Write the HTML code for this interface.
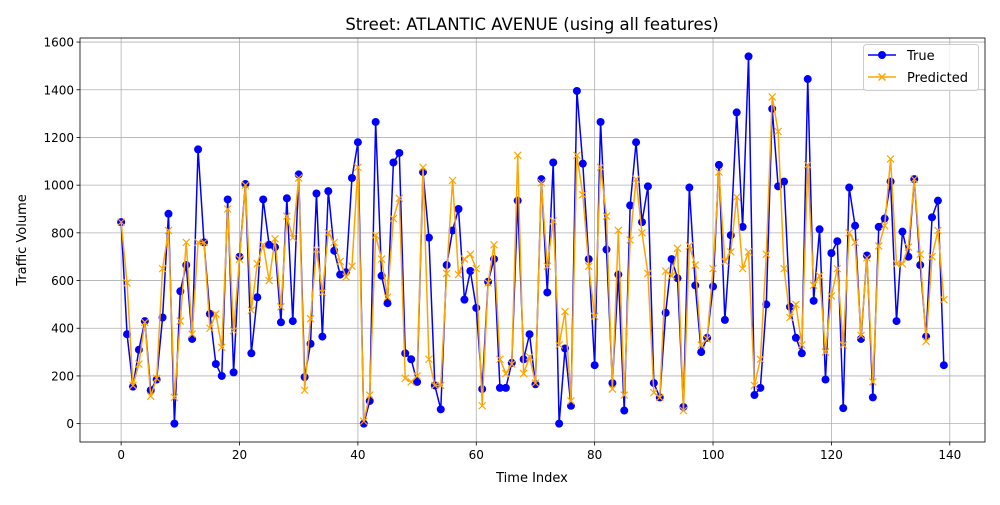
<!DOCTYPE html>
<html><head><meta charset="utf-8">
<style>
body{margin:0;background:#fff;font-family:"Liberation Sans","DejaVu Sans",sans-serif;}
svg text{font-family:"DejaVu Sans","Liberation Sans",sans-serif;}
</style></head>
<body>
<svg id="chart" width="1000" height="500" viewBox="0 0 1000 500" xmlns="http://www.w3.org/2000/svg">
<rect width="1000" height="500" fill="#fff"/>
<text x="532" y="30" font-size="16.5" text-anchor="middle">Street: ATLANTIC AVENUE (using all features)</text>
<g id="grid"></g>
<g id="axes"></g>
<g id="series"></g>
<text x="532" y="482" font-size="13" text-anchor="middle">Time Index</text>
<text x="26" y="240" font-size="13" text-anchor="middle" transform="rotate(-90 26 240)">Traffic Volume</text>
<g>
<rect x="863.5" y="44.5" width="115" height="46" rx="3" fill="#fff" fill-opacity="0.8" stroke="#ccc"/>
<g>
<line x1="868" y1="55" x2="896" y2="55" stroke="#0000ff" stroke-width="1.5"/>
<circle cx="882" cy="55" r="4" fill="#0000ff"/>
<text x="907" y="60" font-size="13">True</text></g>
<g>
<line x1="868" y1="77" x2="896" y2="77" stroke="orange" stroke-width="1.5"/>
<path d="M878.5 73.5L885.5 80.5M885.5 73.5L878.5 80.5" stroke="orange" stroke-width="1.5"/>
<text x="907" y="82" font-size="13">Predicted</text></g>
</g>
</svg>
<script>
const trueVals=[845,375,155,310,430,140,185,445,880,0,555,665,355,1150,760,460,250,200,940,215,700,1005,295,530,940,750,740,425,945,430,1045,195,335,965,365,975,725,625,635,1030,1180,0,95,1265,620,505,1095,1135,295,270,175,1055,780,160,60,665,810,900,520,640,485,145,595,690,150,150,255,935,270,375,165,1025,550,1095,0,315,75,1395,1090,690,245,1265,730,170,625,55,915,1180,845,995,170,110,465,690,610,70,990,580,300,360,575,1085,435,790,1305,825,1540,120,150,500,1320,995,1015,490,360,295,1445,515,815,185,715,765,65,990,830,355,705,110,825,860,1015,430,805,700,1025,665,365,865,935,245];
const predVals=[845,590,160,250,425,115,190,650,810,110,430,760,375,760,760,400,460,320,900,390,690,1000,475,670,750,600,775,490,870,780,1030,140,440,730,550,800,760,680,615,660,1075,10,120,790,690,530,860,945,190,175,200,1075,270,160,160,630,1020,625,690,710,650,75,590,750,270,210,250,1125,210,280,170,1010,660,850,330,470,95,1125,960,660,450,1075,870,145,810,120,770,1025,800,630,130,110,640,620,735,55,745,665,330,355,650,1055,680,720,950,650,720,160,270,710,1370,1225,650,445,500,330,1085,580,620,300,535,650,330,800,760,370,695,175,745,830,1110,670,670,740,1025,710,345,700,810,520];
const xTicks=[0,20,40,60,80,100,120,140];
const yTicks=[0,200,400,600,800,1000,1200,1400,1600];
const L=80,R=985,T=38,B=442,xmin=-6.95,xmax=145.95,ymin=-77,ymax=1617;
const xs=v=>L+(v-xmin)/(xmax-xmin)*(R-L);
const ys=v=>B-(v-ymin)/(ymax-ymin)*(B-T);
const NS="http://www.w3.org/2000/svg";
function mk(tag,attrs,parent){const e=document.createElementNS(NS,tag);for(const k in attrs)e.setAttribute(k,attrs[k]);parent.appendChild(e);return e;}
const grid=document.getElementById('grid'),axes=document.getElementById('axes'),ser=document.getElementById('series');
xTicks.forEach(t=>{const x=xs(t);
mk('line',{x1:x,x2:x,y1:T,y2:B,stroke:'#b0b0b0','stroke-width':0.8},grid);
mk('line',{x1:x,x2:x,y1:B,y2:B+3.5,stroke:'#000','stroke-width':0.8},axes);
const tx=mk('text',{x:x,y:B+17,'font-size':12,'text-anchor':'middle'},axes);tx.textContent=t;

});
yTicks.forEach(t=>{const y=ys(t);
mk('line',{x1:L,x2:R,y1:y,y2:y,stroke:'#b0b0b0','stroke-width':0.8},grid);
mk('line',{x1:L-3.5,x2:L,y1:y,y2:y,stroke:'#000','stroke-width':0.8},axes);
const tx=mk('text',{x:L-6,y:y+4.5,'font-size':12,'text-anchor':'end'},axes);tx.textContent=t;

});
mk('rect',{x:L,y:T,width:R-L,height:B-T,fill:'none',stroke:'#000','stroke-width':0.8},axes);
const tp=trueVals.map((v,i)=>xs(i).toFixed(2)+','+ys(v).toFixed(2)).join(' ');
const l1=mk('polyline',{points:tp,fill:'none',stroke:'#0000ff','stroke-width':1.5},ser);


trueVals.forEach((v,i)=>{const c=mk('circle',{cx:xs(i),cy:ys(v),r:4,fill:'#0000ff'},ser);

});
const pp=predVals.map((v,i)=>xs(i).toFixed(2)+','+ys(v).toFixed(2)).join(' ');
const l2=mk('polyline',{points:pp,fill:'none',stroke:'orange','stroke-width':1.5},ser);


predVals.forEach((v,i)=>{const x=xs(i),y=ys(v);
const m=mk('path',{d:`M${x-3.5} ${y-3.5}L${x+3.5} ${y+3.5}M${x+3.5} ${y-3.5}L${x-3.5} ${y+3.5}`,stroke:'orange','stroke-width':1.2},ser);

});
</script>
</body></html>
